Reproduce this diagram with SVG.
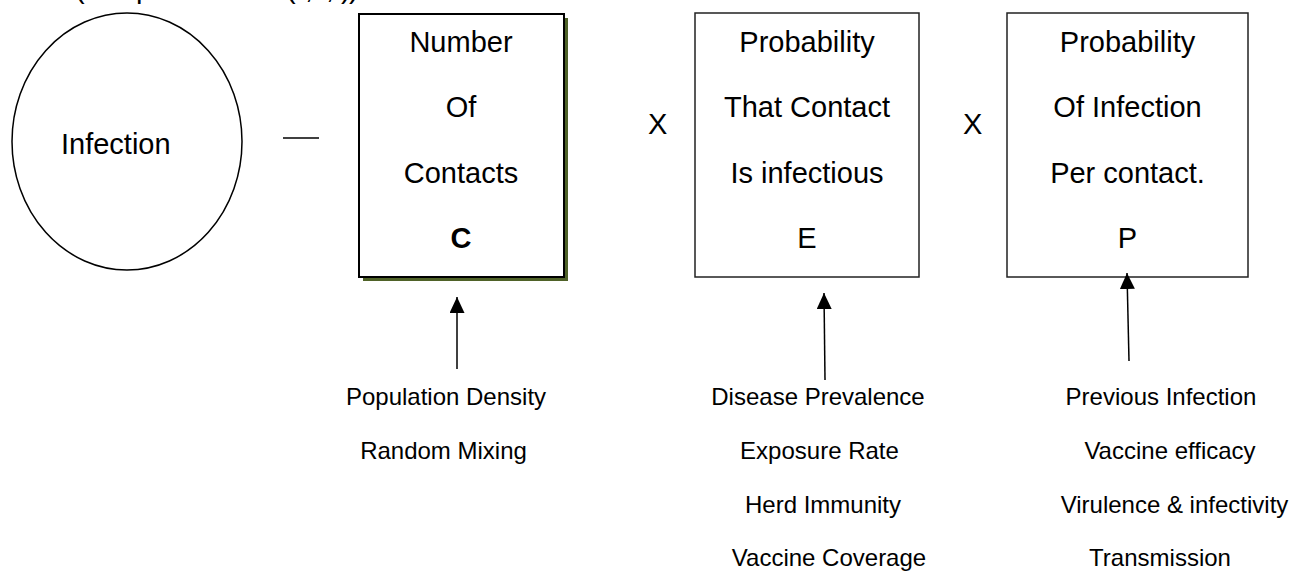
<svg xmlns="http://www.w3.org/2000/svg" width="1291" height="572" viewBox="0 0 1291 572">
<style>
text{font-family:"Liberation Sans",Arial,sans-serif;fill:#000}
.big{font-size:29px}
.mid{font-size:29px;text-anchor:middle}
.small{font-size:24px;text-anchor:middle}
.box{fill:#fff;stroke:#222;stroke-width:1.5}
.conn{stroke:#000;stroke-width:1.5;fill:none}
</style>
<defs>
<marker id="ah" markerUnits="userSpaceOnUse" markerWidth="17" markerHeight="16" refX="16" refY="7.5" orient="auto">
<path d="M0,0 L16,7.5 L0,15 z" fill="#000"/>
</marker>
</defs>
<rect width="1291" height="572" fill="#fff"/>
<g id="title">
<text class="big" y="-2"><tspan x="75">(</tspan><tspan x="136">p</tspan><tspan x="286">(</tspan><tspan x="305">,</tspan><tspan x="326">,</tspan><tspan x="341">)</tspan><tspan x="349">)</tspan></text>
</g>
<g id="infection">
<ellipse cx="127" cy="141.5" rx="115" ry="128.5" fill="#fff" stroke="#000" stroke-width="1.5"/>
<text class="big" x="61" y="154">Infection</text>
</g>
<g id="minus">
<line x1="283" y1="138" x2="319" y2="138" stroke="#000" stroke-width="1.5"/>
</g>
<g id="node-c">
<rect x="363" y="18" width="205" height="263" fill="#4F6228"/>
<rect x="359" y="14" width="205" height="263" fill="#fff" stroke="#000" stroke-width="2"/>
<text class="mid" x="461" y="52">Number</text>
<text class="mid" x="461" y="117">Of</text>
<text class="mid" x="461" y="183">Contacts</text>
<text class="mid" x="461" y="248" font-weight="bold">C</text>
</g>
<g id="times1"><text class="big" x="648" y="134">X</text></g>
<g id="node-e">
<rect class="box" x="695" y="13" width="224" height="264"/>
<text class="mid" x="807" y="52">Probability</text>
<text class="mid" x="807" y="117">That Contact</text>
<text class="mid" x="807" y="183">Is infectious</text>
<text class="mid" x="807" y="248">E</text>
</g>
<g id="times2"><text class="big" x="963" y="134">X</text></g>
<g id="node-p">
<rect class="box" x="1007" y="13" width="241" height="264"/>
<text class="mid" x="1127.5" y="52">Probability</text>
<text class="mid" x="1127.5" y="117">Of Infection</text>
<text class="mid" x="1127.5" y="183">Per contact.</text>
<text class="mid" x="1127.5" y="248">P</text>
</g>
<g id="factors-c">
<text class="small" x="446" y="405">Population Density</text>
<text class="small" x="443.5" y="459">Random Mixing</text>
</g>
<g id="factors-e">
<text class="small" x="818" y="405">Disease Prevalence</text>
<text class="small" x="819.5" y="459">Exposure Rate</text>
<text class="small" x="823" y="513">Herd Immunity</text>
<text class="small" x="829" y="566">Vaccine Coverage</text>
</g>
<g id="factors-p">
<text class="small" x="1161" y="405">Previous Infection</text>
<text class="small" x="1170" y="459">Vaccine efficacy</text>
<text class="small" x="1174.5" y="513">Virulence &amp; infectivity</text>
<text class="small" x="1160" y="566">Transmission</text>
</g>
<g id="connectors">
<line class="conn" x1="457" y1="369" x2="457" y2="297" marker-end="url(#ah)"/>
<line class="conn" x1="825" y1="380" x2="824" y2="293" marker-end="url(#ah)"/>
<line class="conn" x1="1129" y1="361" x2="1127" y2="273" marker-end="url(#ah)"/>
</g>
</svg>
